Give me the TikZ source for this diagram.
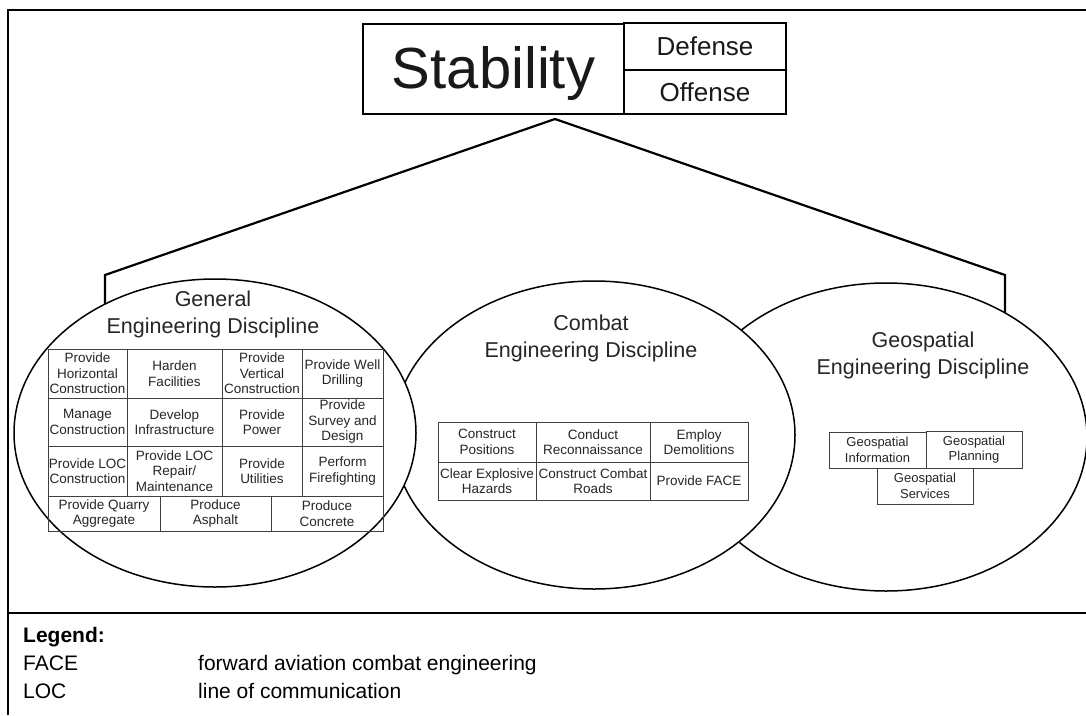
\documentclass[tikz,border=0pt]{standalone}
\usepackage{fontspec}
\setmainfont{Liberation Sans}
\usetikzlibrary{shapes.geometric}
\begin{document}
\begin{tikzpicture}[x=1pt,y=-1pt,
  frameline/.style={line width=2pt},
  sepline/.style={line width=1.2pt},
  roof/.style={line width=2.2pt, line join=miter},
  disc/.style={ellipse, draw, line width=1.5pt, fill=white, minimum width=402pt, minimum height=308pt, inner sep=0pt},
  cell/.style={draw=black!75, line width=1pt, inner sep=0pt, align=center, text=black!85, font=\fontsize{13.5}{15.5}\selectfont},
  geocell/.style={cell, font=\fontsize{13}{15.5}\selectfont},
  title/.style={align=center, text=black!85, inner sep=0pt, font=\fontsize{21.5}{27}\selectfont},
  topbox/.style={draw, line width=1.5pt, inner sep=0pt},
  legtext/.style={anchor=base west, inner sep=0pt, font=\fontsize{21}{24}\selectfont}
]
\useasboundingbox (0,0) rectangle (1086,715);
\fill[white] (0,0) rectangle (1086,715);
% frame
\draw[frameline] (8,715) -- (8,10) -- (1086,10);
\draw[sepline] (8,613) -- (1086,613);
% roof
\coordinate (apex) at (555,119);
\coordinate (lc) at (105,275);
\coordinate (rc) at (1005,275);
\coordinate (lf) at (105,330);
\coordinate (rf) at (1005,330);
\draw[roof] (lf) -- (lc) -- (apex) -- (rc) -- (rf);
% discipline ellipses
\node[disc] (geo) at (886,437) {};
\node[disc] (comb) at (594,435) {};
\node[disc] (gen) at (215,433) {};
% titles
\node[title] (gentitle) at (213,314) {General\\Engineering Discipline};
\node[title] (combtitle) at (591,338) {Combat\\Engineering Discipline};
\node[title] (geotitle) at (923,355) {Geospatial\\Engineering Discipline};
% general grid
\node[cell, minimum width=79pt, minimum height=49pt] (g11) at (87.5,373.5) {Provide\\Horizontal\\Construction};
\node[cell, minimum width=95pt, minimum height=49pt] (g12) at (174.5,373.5) {Harden\\Facilities};
\node[cell, minimum width=80pt, minimum height=49pt] (g13) at (262,373.5) {Provide\\Vertical\\Construction};
\node[cell, minimum width=81pt, minimum height=49pt] (g14) at (342.5,373.5) {Provide Well\\Drilling};
\node[cell, minimum width=79pt, minimum height=48pt] (g21) at (87.5,422) {Manage\\Construction};
\node[cell, minimum width=95pt, minimum height=48pt] (g22) at (174.5,422) {Develop\\Infrastructure};
\node[cell, minimum width=80pt, minimum height=48pt] (g23) at (262,422) {Provide\\Power};
\node[cell, minimum width=81pt, minimum height=48pt] (g24) at (342.5,422) {Provide\\Survey and\\Design};
\node[cell, minimum width=79pt, minimum height=50pt] (g31) at (87.5,471) {Provide LOC\\Construction};
\node[cell, minimum width=95pt, minimum height=50pt] (g32) at (174.5,471) {Provide LOC\\Repair/\\Maintenance};
\node[cell, minimum width=80pt, minimum height=50pt] (g33) at (262,471) {Provide\\Utilities};
\node[cell, minimum width=81pt, minimum height=50pt] (g34) at (342.5,471) {Perform\\Firefighting};
\node[cell, minimum width=112pt, minimum height=35pt] (g41) at (104,513.5) {Provide Quarry\\Aggregate};
\node[cell, minimum width=111pt, minimum height=35pt] (g42) at (215.5,513.5) {Produce\\Asphalt};
\node[cell, minimum width=112pt, minimum height=35pt] (g43) at (327,513.5) {Produce\\Concrete};
% combat grid
\node[cell, minimum width=98pt, minimum height=40pt] (c11) at (487,442) {Construct\\Positions};
\node[cell, minimum width=114pt, minimum height=40pt] (c12) at (593,442) {Conduct\\Reconnaissance};
\node[cell, minimum width=98pt, minimum height=40pt] (c13) at (699,442) {Employ\\Demolitions};
\node[cell, minimum width=98pt, minimum height=38pt] (c21) at (487,481) {Clear Explosive\\Hazards};
\node[cell, minimum width=114pt, minimum height=38pt] (c22) at (593,481) {Construct Combat\\Roads};
\node[cell, minimum width=98pt, minimum height=38pt] (c23) at (699,481) {Provide FACE};
% geospatial boxes
\node[geocell, minimum width=97pt, minimum height=36pt] (gi) at (877.5,450) {Geospatial\\Information};
\node[geocell, minimum width=96pt, minimum height=37pt] (gp) at (974,449.5) {Geospatial\\Planning};
\node[geocell, minimum width=96pt, minimum height=36pt] (gs) at (925,486) {Geospatial\\Services};
% top boxes
\node[topbox, minimum width=261pt, minimum height=90pt, text depth=4pt, font=\fontsize{58}{60}\selectfont, text=black!90] (stab) at (493.5,69) {Stability};
\node[topbox, minimum width=162pt, minimum height=47pt, font=\fontsize{26}{28}\selectfont, text=black!90] (def) at (705,46.5) {Defense};
\node[topbox, minimum width=162pt, minimum height=44pt, font=\fontsize{26}{28}\selectfont, text=black!90] (off) at (705,92) {Offense};
% legend
\node[legtext, font=\bfseries\fontsize{21}{24}\selectfont] (leg) at (23,642) {Legend:};
\node[legtext] (face) at (23,670) {FACE};
\node[legtext] (facex) at (198,670) {forward aviation combat engineering};
\node[legtext] (loc) at (23,698) {LOC};
\node[legtext] (locx) at (198,698) {line of communication};
\end{tikzpicture}
\end{document}
